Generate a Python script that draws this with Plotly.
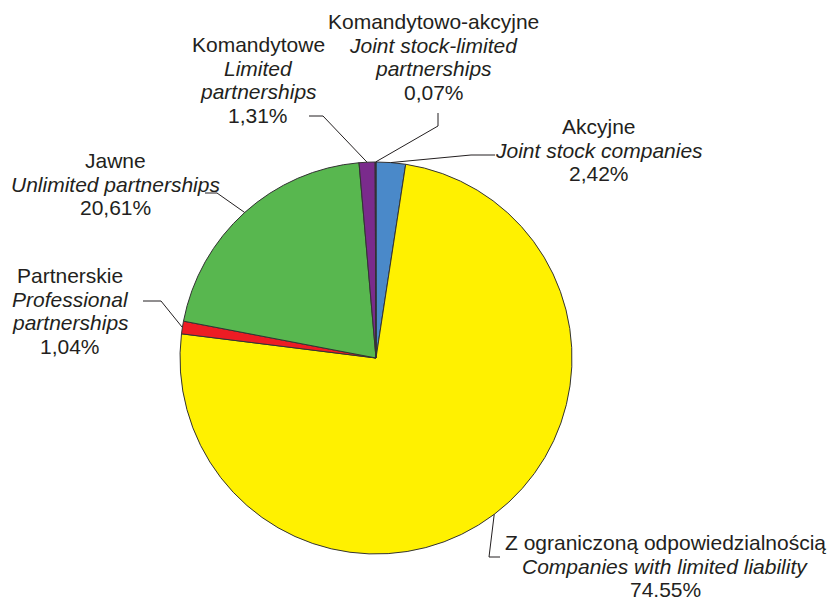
import math
import plotly.graph_objects as go

# ---- data ----
names_pl = ["Akcyjne", "Z ograniczoną odpowiedzialnością", "Partnerskie", "Jawne",
            "Komandytowe", "Komandytowo-akcyjne"]
names_en = [["Joint stock companies"], ["Companies with limited liability"],
            ["Professional", "partnerships"], ["Unlimited partnerships"],
            ["Limited", "partnerships"], ["Joint stock-limited", "partnerships"]]
values = [2.42, 74.55, 1.04, 20.61, 1.31, 0.07]
pct_labels = ["2,42%", "74.55%", "1,04%", "20,61%", "1,31%", "0,07%"]
colors = ["#4A89C9", "#FFF100", "#ED1C24", "#58B74F", "#7A2B8C", "#3A1E48"]

# ---- layout constants (pixels of the 838x601 window; page has an 8px body margin) ----
OFF = 8
W, H = 838 - OFF, 601 - OFF
CX, CY, R = 376, 358, 196
label_pos = [(599, 150), (665, 566), (70, 311), (115, 184), (258, 80), (434, 57)]
leader_end = [(495, 155), (500, 557), (143, 301), (205, 193), (309, 116), (438, 113)]
leader_elbow = [(471, 155), (489, 557), (161, 301), (217, 193), (323, 116), (438, 126)]
LINE_H = 23.7

def px(x, y):
    return (x - OFF) / W, 1 - (y - OFF) / H

fig = go.Figure(go.Pie(
    labels=names_pl, values=values, sort=False, direction="clockwise", rotation=0,
    marker=dict(colors=colors, line=dict(color="#333333", width=1)),
    textinfo="none", hoverinfo="label+percent", showlegend=False,
    domain=dict(x=[(CX - R - OFF) / W, (CX + R - OFF) / W],
                y=[(H - (CY - OFF) - R) / H, (H - (CY - OFF) + R) / H]),
))

total = sum(values)
cum = 0.0
font = dict(family="Liberation Sans, Arial, sans-serif", size=21, color="#231F20")
for i, v in enumerate(values):
    mid = (cum + v / 2) / total * 2 * math.pi
    cum += v
    ax = CX + R * math.sin(mid)
    ay = CY - R * math.cos(mid)
    x0, y0 = px(*leader_end[i])
    x1, y1 = px(*leader_elbow[i])
    x2, y2 = px(ax, ay)
    fig.add_shape(type="path", xref="paper", yref="paper",
                  path=f"M {x0} {y0} L {x1} {y1} L {x2} {y2}",
                  line=dict(color="#231F20", width=1))
    lines = [names_pl[i]] + [f"<i>{t}</i>" for t in names_en[i]] + [pct_labels[i]]
    n = len(lines)
    cx_l, cy_l = label_pos[i]
    for k, t in enumerate(lines):
        lx, ly = px(cx_l, cy_l + (k - (n - 1) / 2) * LINE_H)
        fig.add_annotation(x=lx, y=ly, xref="paper", yref="paper", text=t,
                           showarrow=False, xanchor="center", yanchor="middle",
                           font=font)

fig.update_layout(width=W, height=H, margin=dict(l=0, r=0, t=0, b=0),
                  paper_bgcolor="white", plot_bgcolor="white")
fig.write_html("out.html")
